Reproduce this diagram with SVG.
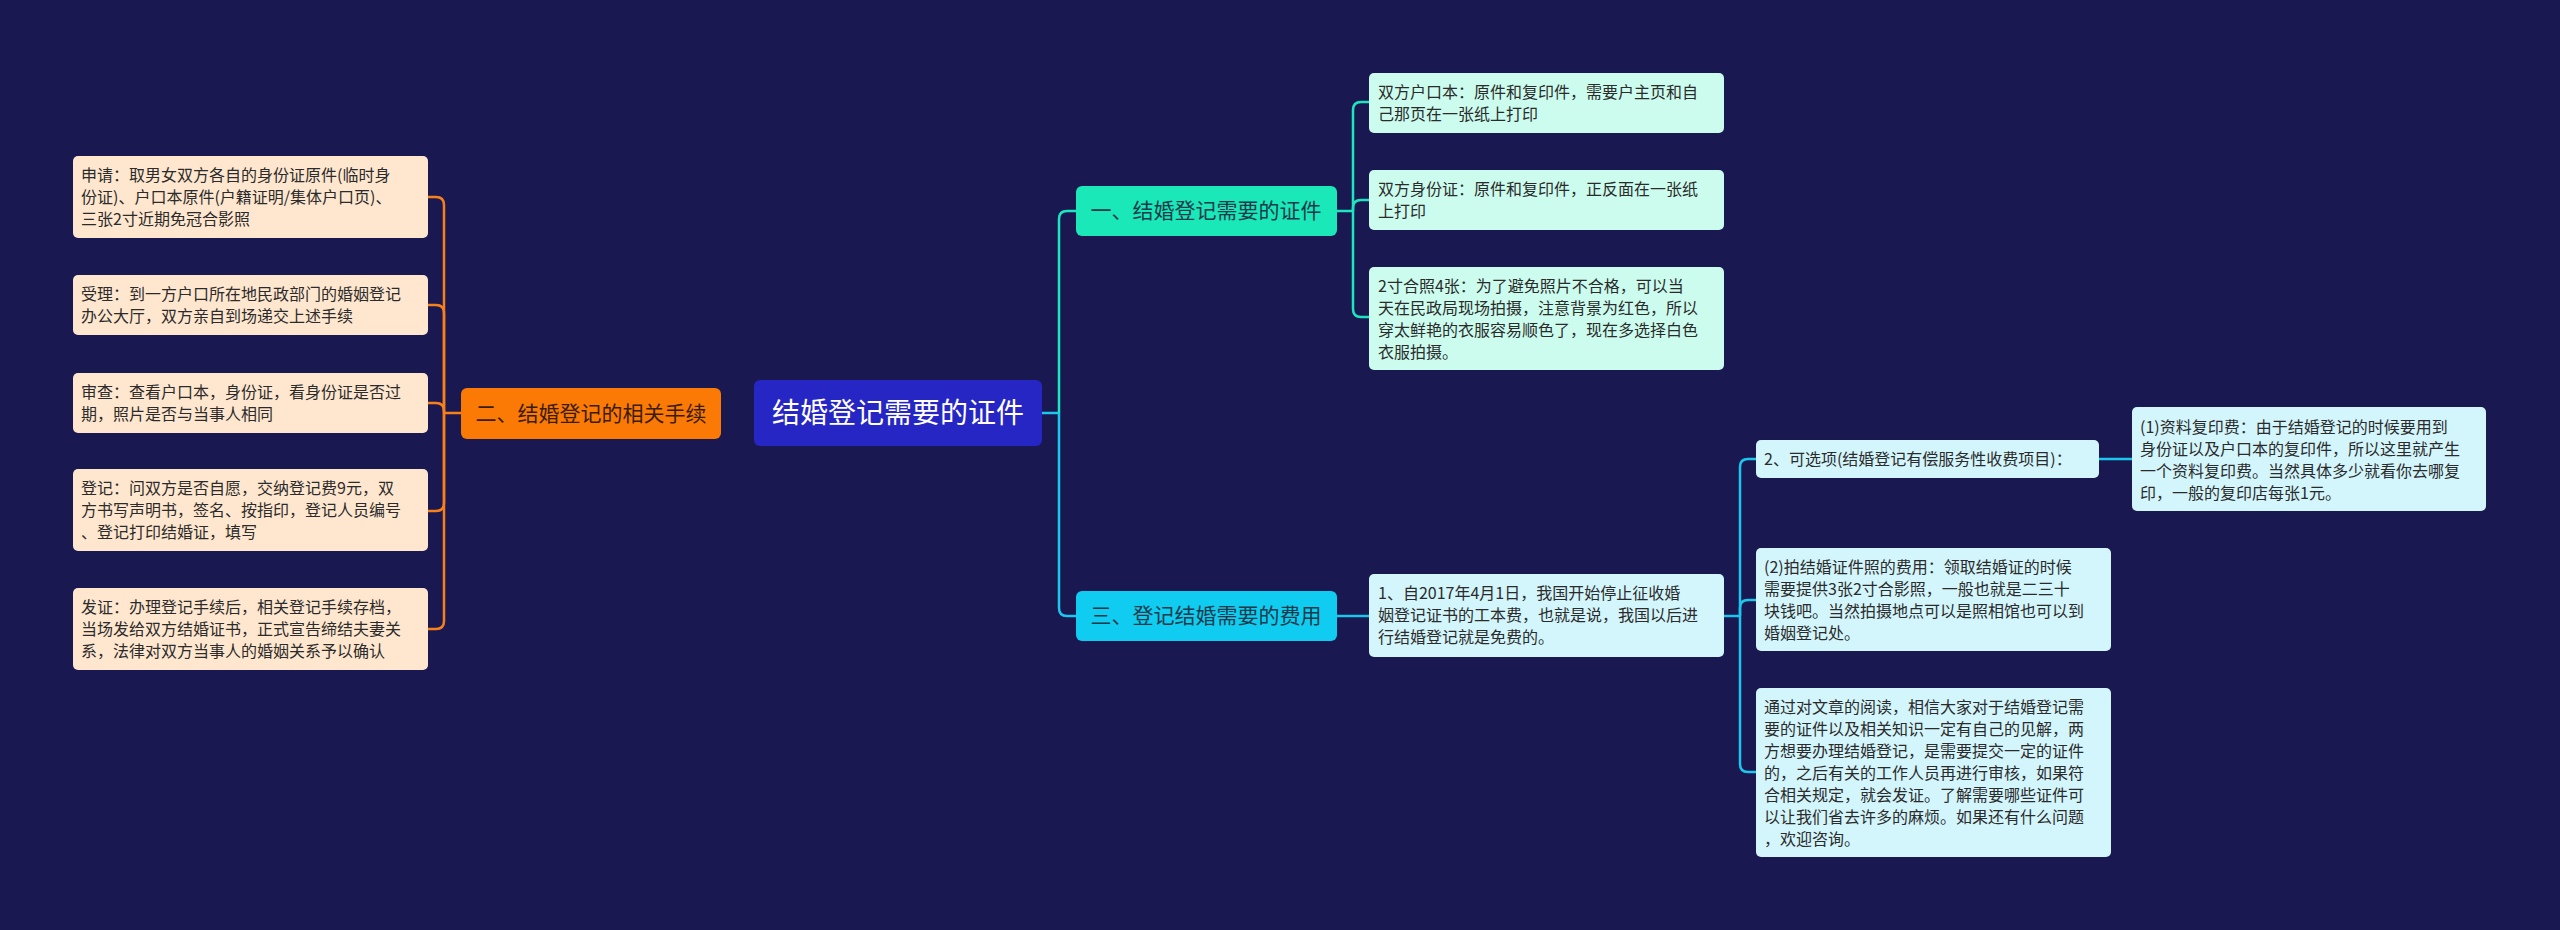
<svg xmlns="http://www.w3.org/2000/svg" width="2560" height="930" viewBox="0 0 2560 930">
<style>
text{font-family:"Noto Sans CJK SC","Noto Sans",sans-serif}
.t{font-size:16px;fill:#2b2b2b}
.l{fill:none;stroke-width:2.5}
.or{stroke:#f7801a}.tq{stroke:#1de5c0}.cy{stroke:#1cc6ec}
.pe{fill:#ffe7cf}.mi{fill:#ccfcee}.lc{fill:#d3f5fc}
</style>
<rect width="2560" height="930" fill="#1a1850"/>
<g id="connectors">
<path class="l or" d="M461 413 H444"/>
<path class="l or" d="M444 413 V205 Q444 197 436 197 H428"/>
<path class="l or" d="M444 413 V313 Q444 305 436 305 H428"/>
<path class="l or" d="M444 413 V411 Q444 403 436 403 H428"/>
<path class="l or" d="M444 413 V503 Q444 511 436 511 H428"/>
<path class="l or" d="M444 413 V621 Q444 629 436 629 H428"/>
<path class="l cy" d="M1042 413 H1059"/>
<path class="l tq" d="M1059 413 V219 Q1059 211 1067 211 H1076"/>
<path class="l cy" d="M1059 413 V608 Q1059 616 1067 616 H1076"/>
<path class="l tq" d="M1337 211 H1353"/>
<path class="l tq" d="M1353 211 V110 Q1353 102 1361 102 H1369"/>
<path class="l tq" d="M1353 211 V208 Q1353 200 1361 200 H1369"/>
<path class="l tq" d="M1353 211 V309 Q1353 317 1361 317 H1369"/>
<path class="l cy" d="M1337 616 H1369"/>
<path class="l cy" d="M1724 616 H1740"/>
<path class="l cy" d="M1740 616 V467 Q1740 459 1748 459 H1756"/>
<path class="l cy" d="M1740 616 V608 Q1740 600 1748 600 H1756"/>
<path class="l cy" d="M1740 616 V764 Q1740 772 1748 772 H1756"/>
<path class="l cy" d="M2099 459 H2132"/>
</g>
<g id="root"><rect x="754" y="380" width="288" height="66" rx="6" fill="#2626c4"/><text x="898" y="423" font-size="28" fill="#fff" text-anchor="middle">结婚登记需要的证件</text></g>
<g id="n2"><rect x="461" y="388" width="260" height="51" rx="6" fill="#fb7a06"/><text x="591" y="421" font-size="21" fill="#3a1c05" text-anchor="middle">二、结婚登记的相关手续</text></g>
<g id="n1"><rect x="1076" y="186" width="261" height="50" rx="6" fill="#1ae8b8"/><text x="1206" y="218" font-size="21" fill="#173a4a" text-anchor="middle">一、结婚登记需要的证件</text></g>
<g id="n3"><rect x="1076" y="591" width="261" height="50" rx="6" fill="#10ccf0"/><text x="1206" y="623" font-size="21" fill="#173a4a" text-anchor="middle">三、登记结婚需要的费用</text></g>
<g id="l1"><rect class="pe" x="73" y="156" width="355" height="82" rx="5"/><text class="t" x="81" y="181"><tspan x="81">申请：取男女双方各自的身份证原件(临时身</tspan><tspan x="81" dy="22">份证)、户口本原件(户籍证明/集体户口页)、</tspan><tspan x="81" dy="22">三张2寸近期免冠合影照</tspan></text></g>
<g id="l2"><rect class="pe" x="73" y="275" width="355" height="60" rx="5"/><text class="t" x="81" y="300"><tspan x="81">受理：到一方户口所在地民政部门的婚姻登记</tspan><tspan x="81" dy="22">办公大厅，双方亲自到场递交上述手续</tspan></text></g>
<g id="l3"><rect class="pe" x="73" y="373" width="355" height="60" rx="5"/><text class="t" x="81" y="398"><tspan x="81">审查：查看户口本，身份证，看身份证是否过</tspan><tspan x="81" dy="22">期，照片是否与当事人相同</tspan></text></g>
<g id="l4"><rect class="pe" x="73" y="469" width="355" height="82" rx="5"/><text class="t" x="81" y="494"><tspan x="81">登记：问双方是否自愿，交纳登记费9元，双</tspan><tspan x="81" dy="22">方书写声明书，签名、按指印，登记人员编号</tspan><tspan x="81" dy="22">、登记打印结婚证，填写</tspan></text></g>
<g id="l5"><rect class="pe" x="73" y="588" width="355" height="82" rx="5"/><text class="t" x="81" y="613"><tspan x="81">发证：办理登记手续后，相关登记手续存档，</tspan><tspan x="81" dy="22">当场发给双方结婚证书，正式宣告缔结夫妻关</tspan><tspan x="81" dy="22">系，法律对双方当事人的婚姻关系予以确认</tspan></text></g>
<g id="c1"><rect class="mi" x="1369" y="73" width="355" height="60" rx="5"/><text class="t" x="1378" y="98"><tspan x="1378">双方户口本：原件和复印件，需要户主页和自</tspan><tspan x="1378" dy="22">己那页在一张纸上打印</tspan></text></g>
<g id="c2"><rect class="mi" x="1369" y="170" width="355" height="60" rx="5"/><text class="t" x="1378" y="195"><tspan x="1378">双方身份证：原件和复印件，正反面在一张纸</tspan><tspan x="1378" dy="22">上打印</tspan></text></g>
<g id="c3"><rect class="mi" x="1369" y="267" width="355" height="103" rx="5"/><text class="t" x="1378" y="292"><tspan x="1378">2寸合照4张：为了避免照片不合格，可以当</tspan><tspan x="1378" dy="22">天在民政局现场拍摄，注意背景为红色，所以</tspan><tspan x="1378" dy="22">穿太鲜艳的衣服容易顺色了，现在多选择白色</tspan><tspan x="1378" dy="22">衣服拍摄。</tspan></text></g>
<g id="f1"><rect class="lc" x="1369" y="574" width="355" height="83" rx="5"/><text class="t" x="1378" y="599"><tspan x="1378">1、自2017年4月1日，我国开始停止征收婚</tspan><tspan x="1378" dy="22">姻登记证书的工本费，也就是说，我国以后进</tspan><tspan x="1378" dy="22">行结婚登记就是免费的。</tspan></text></g>
<g id="g1"><rect class="lc" x="1756" y="440" width="343" height="38" rx="5"/><text class="t" x="1764" y="465">2、可选项(结婚登记有偿服务性收费项目)：</text></g>
<g id="g2"><rect class="lc" x="1756" y="548" width="355" height="103" rx="5"/><text class="t" x="1764" y="573"><tspan x="1764">(2)拍结婚证件照的费用：领取结婚证的时候</tspan><tspan x="1764" dy="22">需要提供3张2寸合影照，一般也就是二三十</tspan><tspan x="1764" dy="22">块钱吧。当然拍摄地点可以是照相馆也可以到</tspan><tspan x="1764" dy="22">婚姻登记处。</tspan></text></g>
<g id="g3"><rect class="lc" x="1756" y="688" width="355" height="169" rx="5"/><text class="t" x="1764" y="713"><tspan x="1764">通过对文章的阅读，相信大家对于结婚登记需</tspan><tspan x="1764" dy="22">要的证件以及相关知识一定有自己的见解，两</tspan><tspan x="1764" dy="22">方想要办理结婚登记，是需要提交一定的证件</tspan><tspan x="1764" dy="22">的，之后有关的工作人员再进行审核，如果符</tspan><tspan x="1764" dy="22">合相关规定，就会发证。了解需要哪些证件可</tspan><tspan x="1764" dy="22">以让我们省去许多的麻烦。如果还有什么问题</tspan><tspan x="1764" dy="22">，欢迎咨询。</tspan></text></g>
<g id="h1"><rect class="lc" x="2132" y="407" width="354" height="104" rx="5"/><text class="t" x="2140" y="433"><tspan x="2140">(1)资料复印费：由于结婚登记的时候要用到</tspan><tspan x="2140" dy="22">身份证以及户口本的复印件，所以这里就产生</tspan><tspan x="2140" dy="22">一个资料复印费。当然具体多少就看你去哪复</tspan><tspan x="2140" dy="22">印，一般的复印店每张1元。</tspan></text></g>
</svg>
